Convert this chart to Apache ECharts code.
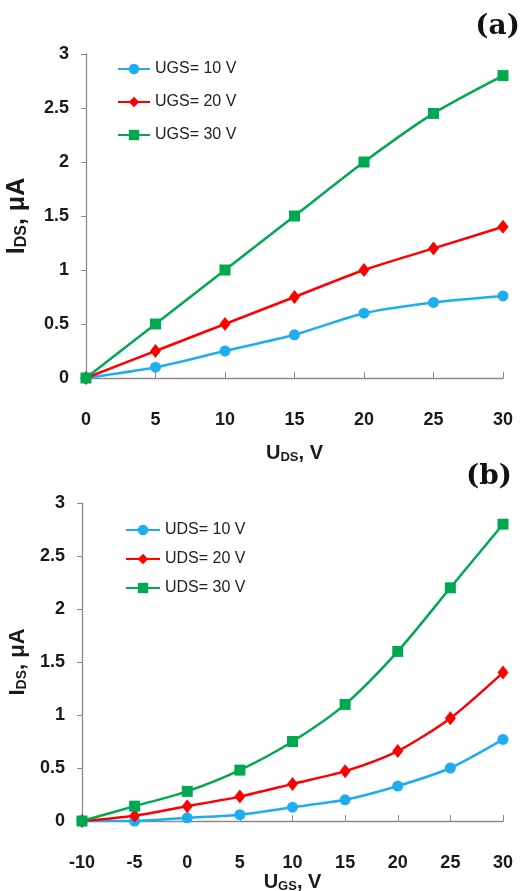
<!DOCTYPE html>
<html><head><meta charset="utf-8">
<script src="https://cdn.jsdelivr.net/npm/echarts@6/dist/echarts.min.js"></script>
<style>html,body{margin:0;padding:0;background:#fff}#c{width:522px;height:891px}</style>
</head><body><div id="c"></div>
<script>
// ---- data ----
const udsTicks = [0, 5, 10, 15, 20, 25, 30];          // panel (a) x: U_DS, V
const ugsTicks = [-10, -5, 0, 5, 10, 15, 20, 25, 30]; // panel (b) x: U_GS, V
const topNames = ['UGS= 10 V', 'UGS= 20 V', 'UGS= 30 V'];
const bottomNames = ['UDS= 10 V', 'UDS= 20 V', 'UDS= 30 V'];
const top10 = [0, 0.1, 0.25, 0.4, 0.6, 0.7, 0.76];
const top20 = [0, 0.25, 0.5, 0.75, 1.0, 1.2, 1.4];
const top30 = [0, 0.5, 1.0, 1.5, 2.0, 2.45, 2.8];
const bot10 = [0, 0, 0.03, 0.06, 0.13, 0.2, 0.33, 0.5, 0.77];
const bot20 = [0, 0.05, 0.14, 0.23, 0.35, 0.47, 0.66, 0.97, 1.4];
const bot30 = [0, 0.14, 0.28, 0.48, 0.75, 1.1, 1.6, 2.2, 2.8];

// ---- styling ----
const FONT = '"Liberation Sans", Arial, sans-serif';
const colors = ['#1EAEEF', '#FF0000', '#00A84F'];
const symbols = ['circle', 'diamond', 'rect'];
const symSizes = [11, [11, 14], 11];
const axisColor = '#8a8a8a';

function pairs(xs, ys) { return xs.map((x, i) => [x, ys[i]]); }

function mkSeries(name, xs, ys, k, axisIdx) {
  return {
    name: name, type: 'line', xAxisIndex: axisIdx, yAxisIndex: axisIdx,
    data: pairs(xs, ys), smooth: 0.25,
    symbol: symbols[k], symbolSize: symSizes[k],
    lineStyle: { color: colors[k], width: 2.5 },
    itemStyle: { color: colors[k] },
    z: 2 + k
  };
}

function rich(big, small, pad) {
  return {
    a: { fontSize: big, fontWeight: 'bold', fontFamily: FONT, color: '#1a1a1a' },
    s: { fontSize: small, fontWeight: 'bold', fontFamily: FONT, color: '#1a1a1a', verticalAlign: 'bottom', padding: [pad, 0, 0, 0] }
  };
}

function xAx(idx, min, max, nm, gap) {
  return {
    type: 'value', gridIndex: idx, min: min, max: max, interval: 5,
    axisLine: { onZero: false, lineStyle: { color: axisColor, width: 1.3 } },
    axisTick: { inside: true, length: 6, lineStyle: { color: axisColor } },
    axisLabel: { margin: 33, fontSize: 18, fontWeight: 'bold', fontFamily: FONT, color: '#1a1a1a' },
    splitLine: { show: false },
    name: nm, nameLocation: 'middle', nameGap: gap,
    nameTextStyle: { rich: rich(20, 13, 8) }
  };
}
function yAx(idx, nm, gap, big, small) {
  return {
    type: 'value', gridIndex: idx, min: 0, max: 3, interval: 0.5,
    axisLine: { show: true, onZero: false, lineStyle: { color: axisColor, width: 1.3 } },
    axisTick: { show: true, length: 5, lineStyle: { color: axisColor } },
    axisLabel: { margin: 17, fontSize: 18, fontWeight: 'bold', fontFamily: FONT, color: '#1a1a1a' },
    splitLine: { show: false },
    name: nm, nameLocation: 'middle', nameGap: gap, nameRotate: 90,
    nameTextStyle: { rich: rich(big, small, 9) }
  };
}

const chart = echarts.init(document.getElementById('c'), null, { renderer: 'canvas' });
chart.setOption({
  backgroundColor: '#fff',
  animation: false,
  title: [
    { text: '(a)', right: 2, top: 13, padding: 0, textStyle: { fontFamily: '"DejaVu Serif", serif', fontWeight: 'bold', fontSize: 28, color: '#111' } },
    { text: '(b)', right: 10, top: 463, padding: 0, textStyle: { fontFamily: '"DejaVu Serif", serif', fontWeight: 'bold', fontSize: 28, color: '#111' } }
  ],
  grid: [
    { left: 86, top: 54, width: 417, height: 324, containLabel: false, outerBoundsMode: 'none' },
    { left: 82, top: 503, width: 421, height: 318, containLabel: false, outerBoundsMode: 'none' }
  ],
  legend: [
    { data: topNames, orient: 'vertical', left: 117, top: 61, padding: 0, itemGap: 17, itemWidth: 32, itemHeight: 13,
      textStyle: { fontSize: 16, fontFamily: FONT, color: '#222' } },
    { data: bottomNames, orient: 'vertical', left: 125, top: 522, padding: 0, itemGap: 13, itemWidth: 34, itemHeight: 13,
      textStyle: { fontSize: 16, fontFamily: FONT, color: '#222' } }
  ],
  xAxis: [
    xAx(0, 0, 30, '{a|U}{s|DS}{a|, V}', 65),
    xAx(1, -10, 30, '{a|U}{s|GS}{a|, V}', 50)
  ],
  yAxis: [
    yAx(0, '{a|I}{s|DS}{a|, μA}', 56, 25, 16),
    yAx(1, '{a|I}{s|DS}{a|, μA}', 51, 22, 14)
  ],
  series: [
    mkSeries(topNames[0], udsTicks, top10, 0, 0),
    mkSeries(topNames[1], udsTicks, top20, 1, 0),
    mkSeries(topNames[2], udsTicks, top30, 2, 0),
    mkSeries(bottomNames[0], ugsTicks, bot10, 0, 1),
    mkSeries(bottomNames[1], ugsTicks, bot20, 1, 1),
    mkSeries(bottomNames[2], ugsTicks, bot30, 2, 1)
  ]
});
</script></body></html>
